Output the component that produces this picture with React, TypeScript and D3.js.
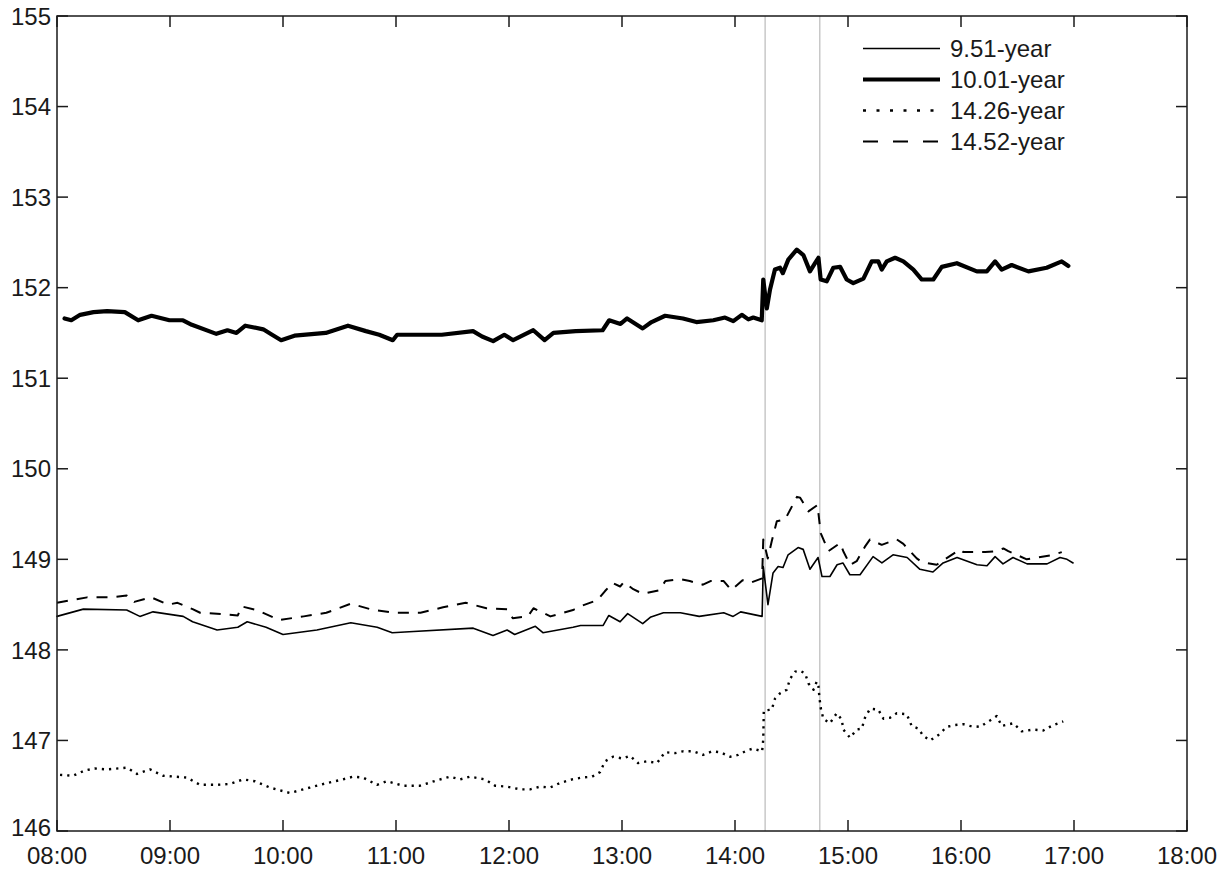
import React from "react";
import * as d3 from "d3";

// minutes after 08:00, price
const series951: [number, number][] = [[0,148.37],[14,148.45],[37,148.44],[44,148.37],[51,148.42],[67,148.37],[72,148.31],[85,148.22],[96,148.25],[101,148.31],[111,148.25],[120,148.17],[138,148.22],[156,148.30],[170,148.25],[178,148.19],[187,148.20],[221,148.24],[231.5,148.16],[239,148.22],[243,148.17],[254,148.26],[258,148.19],[274,148.25],[278,148.27],[290,148.27],[293,148.38],[299,148.31],[303,148.40],[311,148.29],[315,148.36],[322,148.41],[331,148.41],[341,148.37],[354,148.41],[359,148.37],[363,148.42],[374.4,148.37],[375,148.92],[377.5,148.50],[380.2,148.85],[382.9,148.92],[385.5,148.91],[388.2,149.05],[393.5,149.13],[396.2,149.11],[399.8,148.89],[404.1,149.02],[406.2,148.81],[410.4,148.81],[414.2,148.94],[417.3,148.96],[421,148.83],[426.4,148.83],[433.3,149.03],[438,148.96],[443.9,149.05],[451.4,149.02],[458.2,148.89],[465.1,148.86],[470.5,148.96],[477.9,149.02],[488.5,148.94],[493.8,148.93],[498.1,149.03],[502.3,148.95],[507.6,149.02],[515.1,148.95],[525.7,148.95],[532.6,149.02],[536.3,149.0],[539.5,148.96]];

const series1001: [number, number][] = [[4,151.66],[7.6,151.64],[12.3,151.70],[19.4,151.73],[26.6,151.74],[36,151.73],[43.1,151.64],[50.2,151.69],[59.7,151.64],[66.9,151.64],[71.6,151.59],[84.6,151.49],[90.5,151.53],[95.3,151.50],[100,151.58],[109.5,151.54],[114.2,151.48],[119,151.42],[126.1,151.47],[142.7,151.50],[154.5,151.58],[164,151.52],[171.1,151.48],[178.3,151.42],[180.6,151.48],[204.3,151.48],[220.9,151.52],[225.7,151.46],[231.6,151.41],[237.5,151.48],[242.2,151.42],[252.9,151.53],[258.9,151.42],[263.6,151.50],[275.4,151.52],[289.7,151.53],[293.2,151.64],[299.2,151.60],[302.7,151.66],[311,151.55],[315.7,151.62],[322.9,151.69],[332.4,151.66],[339.5,151.62],[348.5,151.64],[354.7,151.67],[359.1,151.63],[363.6,151.70],[367.1,151.65],[369.7,151.67],[374.2,151.64],[375,152.09],[376.9,151.77],[378.6,151.98],[381.2,152.20],[383.9,152.22],[385.4,152.16],[388.3,152.31],[392.8,152.42],[396.3,152.36],[399.8,152.18],[402.5,152.27],[404.3,152.33],[405.5,152.09],[408.7,152.07],[412.2,152.22],[415.8,152.23],[419.3,152.09],[422.8,152.05],[428.2,152.10],[432.6,152.29],[436.1,152.29],[437.9,152.20],[440.6,152.29],[445,152.33],[449.4,152.29],[454.7,152.20],[459.2,152.09],[465.3,152.09],[469.8,152.23],[477.8,152.27],[488.4,152.18],[493.7,152.18],[498.1,152.29],[501.6,152.20],[506.9,152.25],[515.8,152.18],[525.5,152.22],[533.5,152.29],[537,152.24]];

const series1426: [number, number][] = [[1.6,146.62],[8.5,146.61],[14.9,146.67],[20,146.69],[26.6,146.68],[37.2,146.70],[42.5,146.63],[49.4,146.68],[56.3,146.61],[62.7,146.60],[69,146.59],[75.9,146.51],[85,146.51],[91.9,146.52],[98.8,146.57],[105,146.55],[113,146.48],[120,146.44],[123.7,146.42],[134.3,146.48],[143.4,146.53],[151.8,146.57],[157.2,146.60],[162.5,146.59],[169.9,146.51],[175.2,146.55],[183.7,146.50],[192.8,146.50],[201.8,146.56],[208.7,146.60],[214,146.57],[219.3,146.60],[227.3,146.57],[232.6,146.50],[239,146.49],[245.9,146.46],[251.2,146.46],[256.5,146.49],[261.8,146.48],[267.1,146.53],[273.5,146.57],[278.8,146.59],[284.1,146.60],[288.3,146.65],[291,146.77],[295.2,146.82],[300.5,146.80],[304.3,146.83],[308.5,146.75],[313.3,146.77],[318.6,146.75],[322.8,146.87],[328.2,146.86],[332.4,146.88],[337.7,146.88],[343,146.84],[347.8,146.88],[352.1,146.87],[357.4,146.82],[361.6,146.84],[366.4,146.89],[369.6,146.91],[374.4,146.88],[375,147.01],[375.3,147.33],[379.5,147.34],[381.2,147.46],[383.9,147.52],[387.5,147.56],[389.2,147.68],[391.9,147.76],[394.6,147.77],[397.2,147.74],[399,147.63],[401.7,147.56],[403.4,147.65],[404.3,147.60],[404.8,147.48],[405.5,147.36],[406.9,147.24],[410.4,147.19],[414,147.30],[416.7,147.23],[417.5,147.12],[421.1,147.03],[424.6,147.12],[427.3,147.13],[429,147.25],[431.7,147.35],[436.1,147.34],[438.8,147.24],[442.3,147.25],[445.9,147.30],[451.2,147.29],[453.8,147.16],[457.4,147.13],[460,147.05],[463.6,147.00],[468,147.06],[472.4,147.15],[476.8,147.17],[481.2,147.18],[484.8,147.16],[490.1,147.15],[495.4,147.22],[499,147.27],[501.6,147.16],[507.8,147.19],[512.2,147.10],[518.4,147.12],[523.7,147.11],[529,147.17],[534.3,147.21]];

const series1452: [number, number][] = [[0,148.52],[16,148.58],[28,148.58],[37,148.60],[41,148.53],[50,148.58],[59,148.50],[64,148.52],[72,148.45],[76,148.41],[85,148.40],[96,148.38],[98,148.48],[106,148.44],[118,148.33],[131,148.37],[143,148.41],[156,148.51],[168,148.44],[180,148.41],[193,148.41],[205,148.47],[217,148.52],[228,148.46],[239,148.45],[242,148.35],[250,148.37],[253,148.46],[262,148.37],[274,148.44],[279,148.49],[287,148.55],[291,148.65],[295,148.74],[299,148.70],[301,148.75],[306,148.67],[311,148.62],[320,148.66],[323,148.76],[331,148.78],[336,148.76],[343,148.72],[347,148.76],[354,148.76],[358,148.66],[364,148.77],[368,148.74],[374.4,148.79],[375,149.22],[377.4,149.01],[379.5,149.20],[382.2,149.42],[386.6,149.44],[392.9,149.69],[394.6,149.68],[399,149.53],[403.8,149.60],[405.5,149.29],[409.6,149.09],[415.8,149.18],[417.5,149.09],[421.1,148.94],[424.6,148.98],[429,149.14],[431.7,149.22],[437.9,149.16],[445.9,149.22],[449.4,149.17],[456.5,149.01],[459.2,148.97],[467.1,148.94],[479.5,149.11],[481.2,149.08],[492.8,149.08],[499,149.09],[502.5,149.12],[505.1,149.09],[514.9,149.00],[529,149.05],[533.5,149.08]];

const xTickLabels = ["08:00","09:00","10:00","11:00","12:00","13:00","14:00","15:00","16:00","17:00","18:00"];
const yTicks = [146,147,148,149,150,151,152,153,154,155];
const eventTimes = [376, 405]; // 14:16, 14:45
const legendLabels = ["9.51-year","10.01-year","14.26-year","14.52-year"];

const W = 1231, H = 869;
const L = 57, R = 1187, T = 16, B = 831;
const FONT = "'Liberation Sans', Arial, Helvetica, sans-serif";
const INK = "#1a1a1a";

export default function App() {
  const x = d3.scaleLinear().domain([0, 600]).range([L, R]);
  const y = d3.scaleLinear().domain([146, 155]).range([B, T]);
  const line = d3.line<[number, number]>().x(d => x(d[0])).y(d => y(d[1]));

  const styles = [
    { data: series951, width: 1.6, dash: undefined as string | undefined, legendDash: undefined as string | undefined },
    { data: series1001, width: 4.2, dash: undefined, legendDash: undefined },
    { data: series1426, width: 2.4, dash: "2.2,5", legendDash: "3,10.5" },
    { data: series1452, width: 2, dash: "11,9", legendDash: "15,15" },
  ];
  const tick = 11;
  const xTicks = xTickLabels.map((_, i) => i * 60);

  return (
    <svg width={W} height={H} style={{ position: "absolute", left: 0, top: 0, background: "#fff" }}>
      <rect x={0} y={0} width={W} height={H} fill="#fff" />
      {eventTimes.map((t, i) => (
        <line key={i} x1={x(t)} x2={x(t)} y1={T} y2={B} stroke="#c8c8c8" strokeWidth={1.5} />
      ))}
      {styles.map((s, i) => (
        <path key={i} d={line(s.data) || ""} fill="none" stroke="#000" strokeWidth={s.width}
          strokeDasharray={s.dash} strokeLinejoin="round" strokeLinecap={s.dash ? "butt" : "round"} />
      ))}
      {/* frame */}
      <rect x={L} y={T} width={R - L} height={B - T} fill="none" stroke={INK} strokeWidth={1.5} />
      {xTicks.map((t, i) => (
        <g key={i}>
          <line x1={x(t)} x2={x(t)} y1={B} y2={B - tick} stroke={INK} strokeWidth={1.5} />
          <line x1={x(t)} x2={x(t)} y1={T} y2={T + tick} stroke={INK} strokeWidth={1.5} />
          <text x={x(t)} y={864} textAnchor="middle" fontFamily={FONT} fontSize={24} fill={INK}>{xTickLabels[i]}</text>
        </g>
      ))}
      {yTicks.map((v, i) => (
        <g key={i}>
          <line x1={L} x2={L + tick} y1={y(v)} y2={y(v)} stroke={INK} strokeWidth={1.5} />
          <line x1={R} x2={R - tick} y1={y(v)} y2={y(v)} stroke={INK} strokeWidth={1.5} />
          <text x={51} y={i === 0 ? y(v) - 4 : y(v)} dy="0.36em" textAnchor="end" fontFamily={FONT} fontSize={24} fill={INK}>{v}</text>
        </g>
      ))}
      {/* legend */}
      {legendLabels.map((lab, i) => {
        const ly = 48.5 + i * 31;
        const s = styles[i];
        return (
          <g key={i}>
            <line x1={863} x2={940} y1={ly} y2={ly} stroke="#000" strokeWidth={s.width} strokeDasharray={s.legendDash} />
            <text x={950} y={ly} dy="0.36em" fontFamily={FONT} fontSize={24} fill={INK}>{lab}</text>
          </g>
        );
      })}
    </svg>
  );
}
